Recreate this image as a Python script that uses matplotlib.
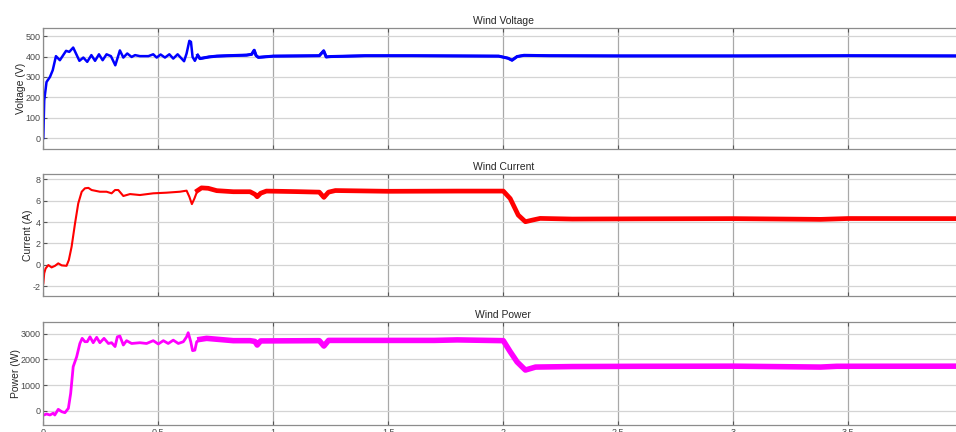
import numpy as np
import matplotlib.pyplot as plt

plt.rcParams['font.family'] = ['Liberation Sans', 'DejaVu Sans']
plt.rcParams['axes.unicode_minus'] = False

## values (time in s)
volt_t = [0, 0.004, 0.014, 0.029, 0.041, 0.055, 0.072, 0.099, 0.113, 0.130,
          0.157, 0.174, 0.191, 0.209, 0.225, 0.242, 0.258, 0.275, 0.294, 0.313,
          0.333, 0.348, 0.365, 0.384, 0.399, 0.42, 0.457, 0.478, 0.493, 0.51,
          0.529, 0.548, 0.565, 0.584, 0.612, 0.623, 0.635, 0.642, 0.649, 0.659,
          0.671, 0.681, 0.72, 0.754, 0.80, 0.826, 0.884, 0.906, 0.917, 0.925,
          0.935, 0.957, 1.0, 1.1, 1.2, 1.219, 1.23, 1.25, 1.4, 1.6,
          1.8, 1.98, 2.02, 2.038, 2.06, 2.09, 2.2, 2.5, 3.0, 3.5, 4.0]
volt_v = [0, 185, 275, 300, 333, 402, 382, 428, 423, 444,
          379, 395, 374, 407, 379, 411, 382, 411, 402, 357,
          430, 395, 415, 398, 407, 402, 402, 411, 395, 410,
          395, 411, 390, 411, 377, 415, 477, 472, 398, 379,
          407, 390, 398, 402, 404, 405, 407, 411, 431, 405,
          396, 398, 402, 403, 404, 428, 398, 400, 404, 404,
          403, 402, 392, 382, 400, 406, 404, 403, 403, 404, 403]

curr_t = [0, 0.004, 0.01, 0.022, 0.036, 0.051, 0.065, 0.080, 0.101, 0.111,
          0.123, 0.138, 0.152, 0.167, 0.181, 0.196, 0.210, 0.246, 0.275, 0.297,
          0.312, 0.326, 0.348, 0.377, 0.42, 0.478, 0.536, 0.594, 0.623, 0.635,
          0.646, 0.657, 0.670, 0.688, 0.717, 0.754, 0.826, 0.899, 0.92, 0.93,
          0.945, 0.97, 1.1, 1.2, 1.22, 1.24, 1.27, 1.5, 1.8, 2.0,
          2.03, 2.065, 2.096, 2.13, 2.16, 2.3, 2.6, 3.0, 3.38, 3.5, 4.0]
curr_a = [-1.75, -0.8, -0.35, -0.03, -0.25, -0.1, 0.13, -0.06, -0.1, 0.44,
          1.68, 3.88, 5.75, 6.84, 7.16, 7.2, 7.0, 6.84, 6.84, 6.69,
          7.0, 7.0, 6.44, 6.62, 6.53, 6.69, 6.75, 6.84, 6.94, 6.37,
          5.68, 6.2, 6.94, 7.2, 7.16, 6.94, 6.84, 6.84, 6.6, 6.37,
          6.7, 6.9, 6.85, 6.8, 6.31, 6.8, 6.95, 6.88, 6.9, 6.9,
          6.2, 4.65, 4.03, 4.2, 4.34, 4.28, 4.3, 4.32, 4.25, 4.33, 4.32]

pow_t = [0, 0.014, 0.029, 0.043, 0.05, 0.065, 0.080, 0.094, 0.109, 0.119,
         0.130, 0.145, 0.159, 0.169, 0.181, 0.191, 0.203, 0.217, 0.232, 0.246,
         0.264, 0.283, 0.297, 0.312, 0.322, 0.333, 0.348, 0.362, 0.384, 0.42,
         0.449, 0.478, 0.5, 0.522, 0.543, 0.565, 0.587, 0.609, 0.623, 0.630,
         0.641, 0.649, 0.659, 0.667, 0.681, 0.710, 0.826, 0.899, 0.92, 0.93,
         0.945, 1.2, 1.22, 1.24, 1.5, 1.7, 1.8, 2.0, 2.03, 2.06,
         2.096, 2.14, 2.3, 2.6, 3.0, 3.38, 3.45, 4.0]
pow_w = [-180, -130, -170, -100, -170, 52, -40, -80, 90, 675,
         1715, 2100, 2620, 2820, 2690, 2690, 2880, 2650, 2860, 2650,
         2820, 2620, 2650, 2500, 2880, 2910, 2560, 2730, 2620, 2650,
         2620, 2730, 2600, 2730, 2620, 2750, 2620, 2690, 2880, 3040,
         2690, 2340, 2360, 2690, 2780, 2820, 2730, 2730, 2700, 2560,
         2720, 2730, 2520, 2740, 2740, 2740, 2760, 2730, 2300, 1900,
         1584, 1700, 1720, 1730, 1735, 1700, 1730, 1735]

xticks = [0, 0.5, 1, 1.5, 2, 2.5, 3, 3.5, 4]
xticklabels = ['0', '0.5', '1', '1.5', '2', '2.5', '3', '3.5', '4']

W, H = 956, 432
fig = plt.figure(figsize=(W / 100, H / 100), dpi=100)

## panel boxes in pixels: (top, bottom)
boxes = [(28, 149.3), (174, 295.7), (321.7, 425)]
left_px = 43.3
width_px = 920.0

panels = [
    (volt_t, volt_v, '#0000ff', 'Wind Voltage', 'Voltage (V)', (-55, 540), [0, 100, 200, 300, 400, 500], 1.8, 2.2),
    (curr_t, curr_a, '#ff0000', 'Wind Current', 'Current (A)', (-2.9, 8.5), [-2, 0, 2, 4, 6, 8], 1.5, 3.4),
    (pow_t, pow_w, '#ff00ff', 'Wind Power', 'Power (W)', (-560, 3470), [0, 1000, 2000, 3000], 2.0, 4.0),
]

for i, (t, y, col, title, ylab, ylim, yticks, lw1, lw2) in enumerate(panels):
    top, bot = boxes[i]
    ax = fig.add_axes([left_px / W, 1 - bot / H, width_px / W, (bot - top) / H])
    t = np.array(t)
    y = np.array(y)
    ax.plot(t, y, color=col, lw=lw1, solid_joinstyle='round')
    late = t >= 0.67
    ax.plot(t[late], y[late], color=col, lw=lw2, solid_joinstyle='round')
    ax.set_xlim(0, 4)
    ax.set_ylim(*ylim)
    ax.set_yticks(yticks)
    ax.set_xticks(xticks)
    ax.grid(axis='y', color='#d4d4d4', lw=0.9)
    ax.grid(axis='x', color='#a8a8a8', lw=0.9)
    ax.set_axisbelow(True)
    for s in ax.spines.values():
        s.set_color('#8c8c8c')
        s.set_linewidth(0.9)
    ax.tick_params(direction='in', length=3, width=0.8, color='#555555',
                   labelsize=6.5, labelcolor='#4a4a4a', top=True, right=True, pad=2)
    if i < 2:
        ax.set_xticklabels([])
    else:
        ax.set_xticklabels(xticklabels)
    ax.set_title(title, fontsize=7.5, color='#262626', pad=3)
    ax.set_ylabel(ylab, fontsize=7.5, color='#262626', labelpad=0)

fig.savefig('out.png', dpi=100)
